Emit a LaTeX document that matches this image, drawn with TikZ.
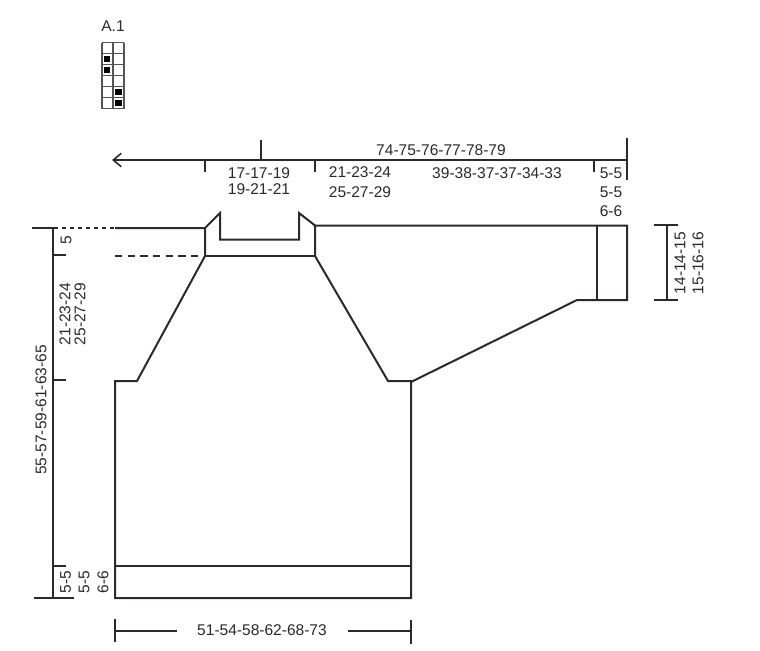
\documentclass[tikz,border=0pt]{standalone}
\usepackage{fontspec}
\setmainfont{Liberation Sans}
\usetikzlibrary{arrows.meta}
\definecolor{ink}{HTML}{2B2A29}
\tikzset{
  outline/.style={draw=ink,line width=1.5pt,line join=miter},
  thinline/.style={draw=ink,line width=1.1pt},
  dim/.style={draw=ink,line width=1.5pt},
  lab/.style={text=ink,font=\fontsize{11.65pt}{13pt}\selectfont,inner sep=0pt},
  vlab/.style={lab,rotate=90},
  gridline/.style={draw=ink!80,line width=0.9pt},
  cellmark/.style={fill=black,draw=none}
}
\begin{document}
\begin{tikzpicture}[x=0.75pt,y=-0.75pt]
\useasboundingbox (0,0) rectangle (760,650);
% chart A.1
\node[lab] (chartname) at (113,26) {A.1};
\foreach \r in {42.5,53.5,64.5,75.5,86.5,97.5,108.5} \draw[gridline] (102,\r) -- (124,\r);
\foreach \c in {102,113,124} \draw[gridline] (\c,42.5) -- (\c,108.5);
\fill[cellmark] (104.3,55.7) rectangle (110.3,61.7);
\fill[cellmark] (104.3,66.7) rectangle (110.3,72.7);
\fill[cellmark] (115.3,89) rectangle (121.5,95);
\fill[cellmark] (115.3,100) rectangle (121.5,106);
% top dimension
\draw[dim,{Straight Barb[length=6pt,width=10pt,line width=1.2pt]}-] (112,160) -- (627,160);
\draw[dim] (260.5,140) -- (260.5,160);
\draw[dim] (204.5,160) -- (204.5,172);
\draw[dim] (314.5,160) -- (314.5,172);
\draw[dim] (594,160) -- (594,172);
\draw[dim] (627,138) -- (627,180);
\node[lab] (wa) at (441,150) {74-75-76-77-78-79};
\node[lab] (wb) at (259,173) {17-17-19};
\node[lab] (wc) at (259,189) {19-21-21};
\node[lab] (wd) at (360,172) {21-23-24};
\node[lab] (we) at (360,192) {25-27-29};
\node[lab] (wf) at (497,173) {39-38-37-37-34-33};
\node[lab] (wg) at (611,173) {5-5};
\node[lab] (wh) at (611,192) {5-5};
\node[lab] (wi) at (611,211) {6-6};
% garment
\draw[outline] (115,228) -- (205,228) -- (205,256) -- (137,381) -- (115,381) -- (115,598) -- (411,598) -- (411,381) -- (388,381) -- (315,256) -- (315,225.5) -- (299,213) -- (299,239.5) -- (220,239.5) -- (220,213) -- (205,228);
\draw[outline] (205,255.5) -- (315,255.5);
\draw[outline] (315,225.5) -- (627,225.5) -- (627,300) -- (577,300) -- (411,382);
\draw[thinline] (597,225.5) -- (597,300);
\draw[outline] (115,566) -- (411,566);
\draw[dim,dash pattern=on 3pt off 3pt] (54,228) -- (115,228);
\draw[dim,dash pattern=on 5.5pt off 4pt] (115,255.5) -- (205,255.5);
% left dimension
\draw[dim] (53,228) -- (53,598);
\draw[dim] (32,228) -- (54,228);
\draw[dim] (53,255) -- (66,255);
\draw[dim] (53,380) -- (66,380);
\draw[dim] (53,566) -- (66,566);
\draw[dim] (34,598) -- (74,598);
\node[vlab] (ha) at (41,410) {55-57-59-61-63-65};
\node[vlab] (hb) at (66,240) {5};
\node[vlab] (hc) at (65,314) {21-23-24};
\node[vlab] (hd) at (80,314) {25-27-29};
\node[vlab] (he) at (65.5,582) {5-5};
\node[vlab] (hf) at (84,582) {5-5};
\node[vlab] (hg) at (103,582) {6-6};
% right dimension
\draw[dim] (667,225) -- (667,300);
\draw[dim] (654,225) -- (678,225);
\draw[dim] (654,300) -- (678,300);
\node[vlab] (sa) at (680,263) {14-14-15};
\node[vlab] (sb) at (698,263) {15-16-16};
% bottom dimension
\draw[dim] (115,619) -- (115,642);
\draw[dim] (411,620) -- (411,644);
\draw[dim] (115,630.5) -- (177,630.5);
\draw[dim] (348,630.5) -- (411,630.5);
\node[lab] (ba) at (262,630) {51-54-58-62-68-73};
\end{tikzpicture}
\end{document}
